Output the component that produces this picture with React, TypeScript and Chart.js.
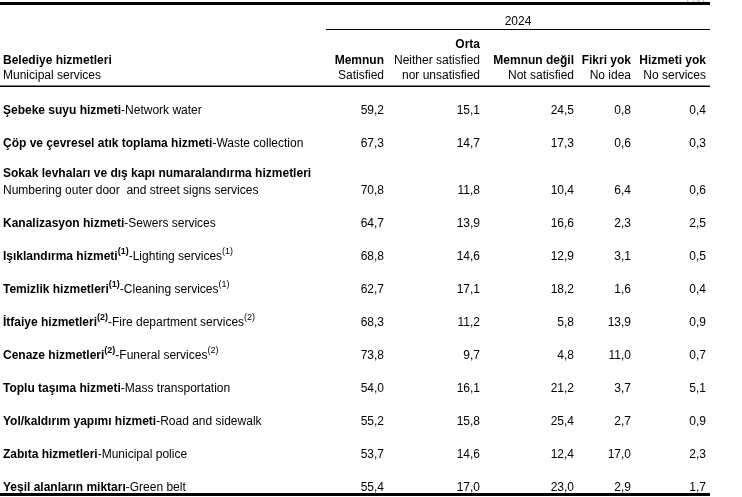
import React, { useEffect, useRef } from "react";
import { Chart, registerables } from "chart.js";

Chart.register(...registerables);

// ---------------- data ----------------
const YEAR = "2024";
const STUB_TR = "Belediye hizmetleri";
const STUB_EN = "Municipal services";

const SERVICES_TR = [
  "Şebeke suyu hizmeti",
  "Çöp ve çevresel atık toplama hizmeti",
  "Sokak levhaları ve dış kapı numaralandırma hizmetleri",
  "Kanalizasyon hizmeti",
  "Işıklandırma hizmeti",
  "Temizlik hizmetleri",
  "İtfaiye hizmetleri",
  "Cenaze hizmetleri",
  "Toplu taşıma hizmeti",
  "Yol/kaldırım yapımı hizmeti",
  "Zabıta hizmetleri",
  "Yeşil alanların miktarı",
];

const SERVICES_EN = [
  "Network water",
  "Waste collection",
  "Numbering outer door  and street signs services",
  "Sewers services",
  "Lighting services",
  "Cleaning services",
  "Fire department services",
  "Funeral services",
  "Mass transportation",
  "Road and sidewalk",
  "Municipal police",
  "Green belt",
];

const NOTES = ["", "", "", "", "1", "1", "2", "2", "", "", "", ""];

const COLUMNS_TR = ["Memnun", "Orta", "Memnun değil", "Fikri yok", "Hizmeti yok"];
const COLUMNS_EN = [
  ["Satisfied"],
  ["Neither satisfied", "nor unsatisfied"],
  ["Not satisfied"],
  ["No idea"],
  ["No services"],
];

const SATISFIED = [59.2, 67.3, 70.8, 64.7, 68.8, 62.7, 68.3, 73.8, 54.0, 55.2, 53.7, 55.4];
const NEUTRAL = [15.1, 14.7, 11.8, 13.9, 14.6, 17.1, 11.2, 9.7, 16.1, 15.8, 14.6, 17.0];
const NOT_SATISFIED = [24.5, 17.3, 10.4, 16.6, 12.9, 18.2, 5.8, 4.8, 21.2, 25.4, 12.4, 23.0];
const NO_IDEA = [0.8, 0.6, 6.4, 2.3, 3.1, 1.6, 13.9, 11.0, 3.7, 2.7, 17.0, 2.9];
const NO_SERVICES = [0.4, 0.3, 0.6, 2.5, 0.5, 0.4, 0.9, 0.7, 5.1, 0.9, 2.3, 1.7];

const SERIES = [SATISFIED, NEUTRAL, NOT_SATISFIED, NO_IDEA, NO_SERVICES];

// ---------------- layout (not data) ----------------
const W = 742;
const H = 497;
const FONT = '"Liberation Sans", Arial, sans-serif';
const F_REG = `12px ${FONT}`;
const F_BOLD = `bold 12px ${FONT}`;
const F_SUP = `9px ${FONT}`;
const F_SUP_BOLD = `bold 9px ${FONT}`;
const COL_X = [384, 480, 574, 631, 706];
const LABEL_X = 3;
const ROW_PX = 33;
const FIRST_ROW_Y = 111;
const EXTRA_LINE_UNITS = 14 / 33;
const LINE_GAP = 17;
const LABEL_MAX_W = 320;
const RULE_RIGHT = 710;

const fmt = (v: number) => v.toFixed(1).replace(".", ",");

function drawSegs(ctx: CanvasRenderingContext2D, x: number, y: number, segs: { t: string; b?: boolean; sup?: boolean }[]) {
  let cx = x;
  for (const s of segs) {
    if (!s.t) continue;
    ctx.font = s.sup ? (s.b ? F_SUP_BOLD : F_SUP) : s.b ? F_BOLD : F_REG;
    ctx.fillText(s.t, cx, s.sup ? y - 5 : y);
    cx += ctx.measureText(s.t).width;
  }
}

export default function App() {
  const ref = useRef<HTMLCanvasElement | null>(null);

  useEffect(() => {
    const canvas = ref.current;
    if (!canvas) return;

    // decide which rows wrap onto two lines
    const mctx = document.createElement("canvas").getContext("2d")!;
    const split = SERVICES_TR.map((tr, i) => {
      mctx.font = F_BOLD;
      const a = mctx.measureText(tr).width;
      mctx.font = F_REG;
      const b = mctx.measureText("-" + SERVICES_EN[i]).width;
      return a + b > LABEL_MAX_W;
    });
    let extra = 0;
    const rowPos = SERVICES_TR.map((_, i) => {
      if (split[i]) extra += EXTRA_LINE_UNITS;
      return i + extra;
    });

    const yMin = -FIRST_ROW_Y / ROW_PX;
    const yMax = yMin + H / ROW_PX;

    const tablePlugin = {
      id: "tablePlugin",
      beforeDraw(chart: any) {
        const ctx = chart.ctx as CanvasRenderingContext2D;
        ctx.save();
        ctx.fillStyle = "#ffffff";
        ctx.fillRect(0, 0, chart.width, chart.height);
        ctx.restore();
      },
      afterDraw(chart: any) {
        const ctx = chart.ctx as CanvasRenderingContext2D;
        const ys = chart.scales.y;
        ctx.save();

        // faint clipped unit marker
        ctx.fillStyle = "#b0b0b0";
        ctx.font = F_REG;
        ctx.textAlign = "right";
        ctx.textBaseline = "alphabetic";
        ctx.fillText("(%)", 705, 2);
        ctx.textBaseline = "middle";

        // rules
        ctx.fillStyle = "#000";
        ctx.fillRect(0, 2, RULE_RIGHT, 3);
        ctx.fillRect(326, 29, RULE_RIGHT - 326, 1);
        ctx.fillRect(0, 85.5, RULE_RIGHT, 1.5);
        ctx.fillRect(0, 493, RULE_RIGHT, 3);

        // year
        ctx.font = F_REG;
        ctx.textAlign = "center";
        ctx.fillText(YEAR, 518, 22);

        // stub header
        ctx.textAlign = "left";
        ctx.font = F_BOLD;
        ctx.fillText(STUB_TR, LABEL_X, 61);
        ctx.font = F_REG;
        ctx.fillText(STUB_EN, LABEL_X, 76);

        // column headers
        ctx.textAlign = "right";
        COLUMNS_TR.forEach((tr, j) => {
          const en = COLUMNS_EN[j];
          const x = COL_X[j];
          let y = 76;
          ctx.font = F_REG;
          for (let k = en.length - 1; k >= 0; k--) {
            ctx.fillText(en[k], x, y);
            y -= k === en.length - 1 ? 15 : 16;
          }
          ctx.font = F_BOLD;
          ctx.fillText(tr, x, y);
        });

        // row labels
        ctx.textAlign = "left";
        SERVICES_TR.forEach((tr, i) => {
          const y = ys.getPixelForValue(rowPos[i]);
          const n = NOTES[i] ? `(${NOTES[i]})` : "";
          if (split[i]) {
            drawSegs(ctx, LABEL_X, y - LINE_GAP, [{ t: tr, b: true }, { t: n, b: true, sup: true }]);
            drawSegs(ctx, LABEL_X, y, [{ t: SERVICES_EN[i] }, { t: n, sup: true }]);
          } else {
            drawSegs(ctx, LABEL_X, y, [
              { t: tr, b: true },
              { t: n, b: true, sup: true },
              { t: "-" + SERVICES_EN[i] },
              { t: n, sup: true },
            ]);
          }
        });

        // values, placed by the library's scales
        ctx.textAlign = "right";
        ctx.font = F_REG;
        chart.data.datasets.forEach((ds: any, j: number) => {
          const meta = chart.getDatasetMeta(j);
          meta.data.forEach((pt: any, i: number) => {
            ctx.fillText(fmt(SERIES[j][i]), pt.x, pt.y);
          });
        });
        ctx.restore();
      },
    };

    const chart = new Chart(canvas, {
      type: "scatter",
      data: {
        datasets: SERIES.map((vals, j) => ({
          label: COLUMNS_TR[j],
          data: vals.map((_, i) => ({ x: COL_X[j], y: rowPos[i] })),
          pointRadius: 0,
          pointHoverRadius: 0,
          showLine: false,
        })),
      },
      options: {
        responsive: false,
        animation: false,
        devicePixelRatio: 1,
        layout: { padding: 0 },
        events: [],
        plugins: { legend: { display: false }, tooltip: { enabled: false } },
        scales: {
          x: { type: "linear", display: false, min: 0, max: W },
          y: { type: "linear", display: false, reverse: true, min: yMin, max: yMax },
        },
      },
      plugins: [tablePlugin],
    });

    return () => chart.destroy();
  }, []);

  return (
    <div style={{ position: "absolute", left: 0, top: 0, width: W, height: H, background: "#fff" }}>
      <canvas ref={ref} width={W} height={H} style={{ width: W, height: H, display: "block" }} />
    </div>
  );
}
